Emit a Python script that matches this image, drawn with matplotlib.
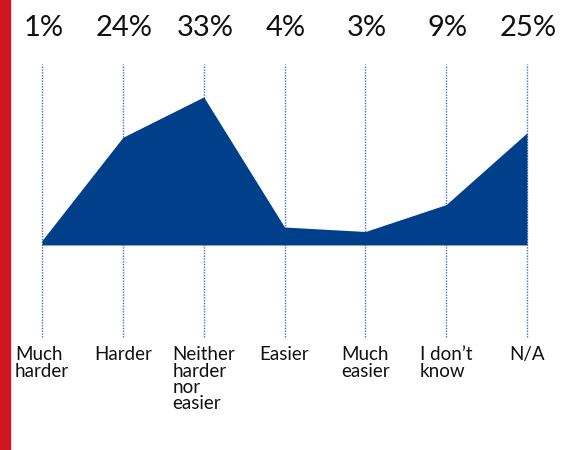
import matplotlib
matplotlib.use("Agg")
import matplotlib.pyplot as plt
from matplotlib.patches import Rectangle

categories = ["Much\nharder", "Harder", "Neither\nharder\nnor\neasier", "Easier",
              "Much\neasier", "I don\u2019t\nknow", "N/A"]
values = [1, 24, 33, 4, 3, 9, 25]
value_labels = ["1%", "24%", "33%", "4%", "3%", "9%", "25%"]

plt.rcParams["font.family"] = ["Lato", "DejaVu Sans"]

fig = plt.figure(figsize=(5.69, 4.5), dpi=100)
ax = fig.add_axes([0, 0, 1, 1])
ax.set_xlim(-0.52, 6.52)
ax.set_ylim(-45.7, 54.6)
ax.axis("off")

x = list(range(len(values)))

# dotted guide lines behind the area
for xi in x:
    ax.plot([xi, xi], [-20.5, 40.4], color="#3f72c2", lw=1.0,
            linestyle=(0, (1, 1)), zorder=1)

ax.fill_between(x, 0, values, color="#00408a", lw=0, zorder=2)

for xi, lab in zip(x, value_labels):
    ax.text(xi + 0.02, 48.3, lab, ha="center", va="center", fontsize=21,
            color="#111111")

for xi, cat in zip(x, categories):
    ax.text(xi, -22.6, cat, ha="center", va="top", multialignment="left",
            fontsize=13.5, color="#111111", linespacing=0.95)

# red accent strip on the left edge
fig.patches.append(Rectangle((0, 0), 10 / 569, 1, transform=fig.transFigure,
                             color="#d0161c", zorder=0))

fig.savefig("out.png", dpi=100)
